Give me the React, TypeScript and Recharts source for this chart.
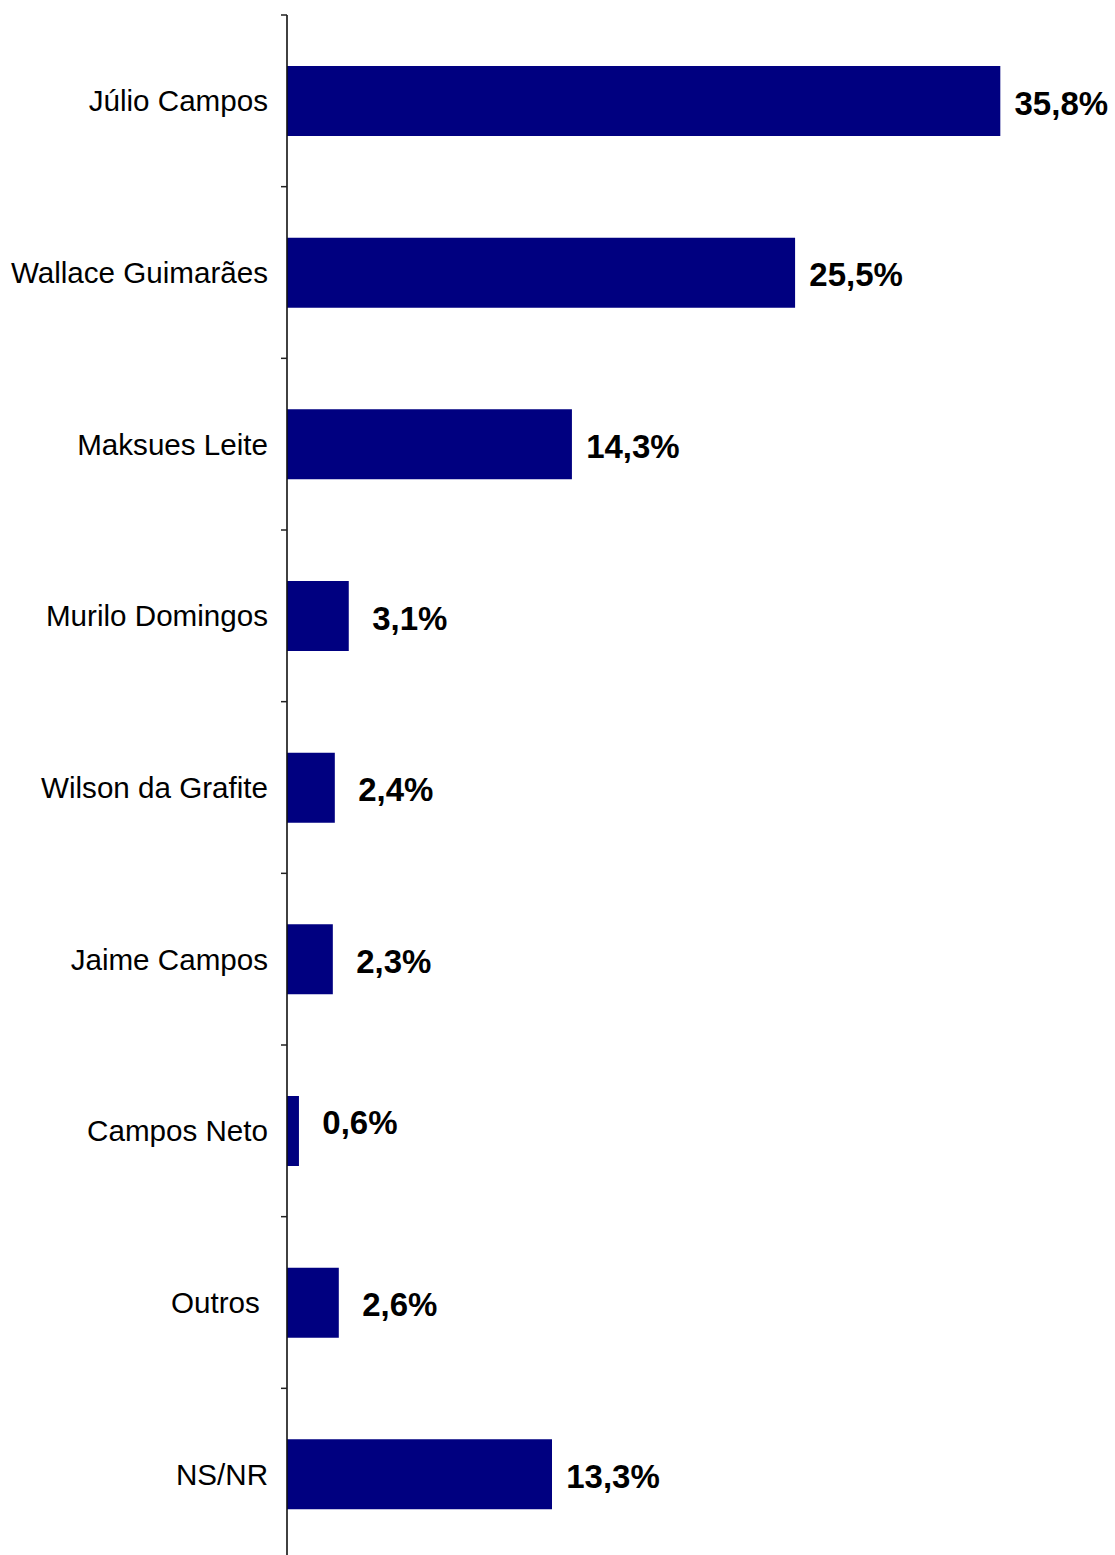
import React from 'react';
import { BarChart, Bar, XAxis, YAxis, LabelList } from 'recharts';

const categories = [
  'Júlio Campos',
  'Wallace Guimarães',
  'Maksues Leite',
  'Murilo Domingos',
  'Wilson da Grafite',
  'Jaime Campos',
  'Campos Neto',
  'Outros ',
  'NS/NR',
];
const values = [35.8, 25.5, 14.3, 3.1, 2.4, 2.3, 0.6, 2.6, 13.3];

const data = categories.map((name, i) => ({ name, value: values[i] }));

const fmt = (v: number) => v.toFixed(1).replace('.', ',') + '%';

const CategoryTick = (props: any) => {
  const { x, y, payload } = props;
  const half = payload && typeof payload.offset === 'number' && payload.offset > 0 ? payload.offset : 85.83;
  return (
    <g>
      <line x1={x - 6} x2={x} y1={y - half} y2={y - half} stroke="#222" strokeWidth={1.5} />
      <text
        x={x - 19}
        y={y}
        dy="0.355em"
        textAnchor="end"
        fill="#000"
        style={{ fontFamily: '"Liberation Sans", Arial, sans-serif', fontSize: 29.6, whiteSpace: 'pre' }}
      >
        {payload.value}
      </text>
    </g>
  );
};

const ValueLabel = (props: any) => {
  const { x, y, width, height, value, index } = props;
  const shift = index === 6 ? -9 : 2;
  return (
    <text
      x={x + width + 61}
      y={y + height / 2 + shift}
      dy="0.355em"
      textAnchor="middle"
      fill="#000"
      style={{ fontFamily: '"Liberation Sans", Arial, sans-serif', fontSize: 33, fontWeight: 700 }}
    >
      {fmt(value)}
    </text>
  );
};

export default function App() {
  return (
    <div style={{ position: 'absolute', left: 0, top: 0, width: 1115, height: 1555, overflow: 'hidden', background: '#fff' }}>
      <BarChart
        width={1115}
        height={1575}
        data={data}
        layout="vertical"
        margin={{ top: 15, right: 31, bottom: 15, left: 0 }}
        barCategoryGap={0}
      >
        <XAxis type="number" domain={[0, 40]} hide />
        <YAxis
          type="category"
          dataKey="name"
          width={287}
          axisLine={{ stroke: '#111', strokeWidth: 1.6 }}
          tickLine={false}
          tickSize={0}
          tickMargin={0}
          interval={0}
          tick={<CategoryTick />}
        />
        <Bar dataKey="value" fill="#000080" barSize={70} isAnimationActive={false}>
          <LabelList dataKey="value" content={<ValueLabel />} />
        </Bar>
      </BarChart>
    </div>
  );
}
